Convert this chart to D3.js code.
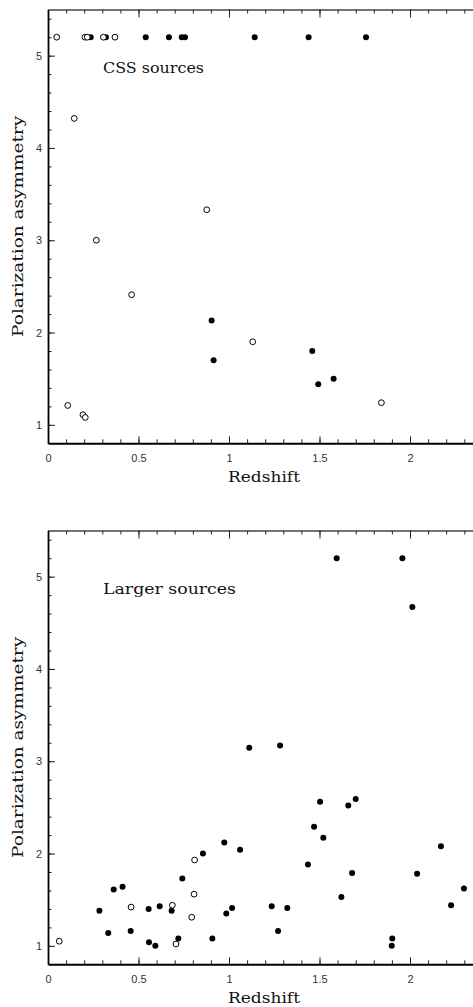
<!DOCTYPE html>
<html>
<head>
<meta charset="utf-8">
<script src="https://cdn.jsdelivr.net/npm/d3@7"></script>
<style>
  body { margin: 0; background: #fff; }
</style>
</head>
<body>
<svg id="vis" width="473" height="1007"></svg>
<script>
// redshift vs polarization asymmetry, [z, asym]
var cssFilled = [[0.236,5.2],[0.32,5.2],[0.54,5.2],[0.668,5.2],[0.739,5.2],[0.757,5.2],
    [1.142,5.2],[1.44,5.2],[1.757,5.2],[0.904,2.13],[0.915,1.70],[1.46,1.80],[1.493,1.44],[1.578,1.50]];
var cssOpen = [[0.048,5.2],[0.204,5.2],[0.217,5.2],[0.306,5.2],[0.37,5.2],[0.145,4.32],[0.877,3.33],
    [0.267,3.00],[0.462,2.41],[0.109,1.21],[0.193,1.11],[0.206,1.08],[1.131,1.90],[1.842,1.24]];
var largerFilled = [[1.595,5.2],[1.958,5.2],[2.013,4.67],[1.112,3.145],[1.282,3.17],[1.503,2.56],
    [1.659,2.52],[1.70,2.59],[1.47,2.29],[1.521,2.17],[1.061,2.04],[2.171,2.08],[1.436,1.88],
    [1.68,1.79],[2.039,1.78],[2.298,1.62],[1.621,1.53],[1.017,1.41],[1.236,1.43],[1.322,1.41],
    [2.227,1.44],[1.271,1.16],[1.902,1.08],[1.899,1.00],[0.974,2.12],[0.856,2.00],[0.742,1.73],
    [0.412,1.64],[0.363,1.61],[0.617,1.43],[0.556,1.40],[0.683,1.38],[0.284,1.38],[0.985,1.35],
    [0.333,1.14],[0.457,1.16],[0.72,1.08],[0.908,1.08],[0.558,1.04],[0.593,1.00]];
var largerOpen = [[0.81,1.93],[0.807,1.56],[0.687,1.44],[0.459,1.42],[0.794,1.31],[0.707,1.02],[0.062,1.05]];

var xMajor = [0, 0.5, 1, 1.5, 2];
var yMajor = [1, 2, 3, 4, 5];
var xMinor = d3.range(1, 25).map(function(i){ return i / 10; });
var yMinor = d3.range(5, 28).map(function(i){ return i / 5; });

var canvas = d3.select("#vis");

var left = 48, plotW = 452.5, plotH = 433.8;

function addSerifText(g, x, y, len, text, rotate){
    return g.append("text")
        .attr("x", x)
        .attr("y", y)
        .attr("text-anchor", "middle")
        .attr("transform", rotate ? "rotate(-90," + x + "," + y + ")" : null)
        .attr("textLength", len)
        .attr("lengthAdjust", "spacingAndGlyphs")
        .style("font-family", "'DejaVu Serif', serif")
        .style("font-size", "15px")
        .style("fill", "#111")
        .text(text);
}

function makePanel(top, filled, open, label, labelLen){
    var bottom = top + plotH;
    var x = d3.scaleLinear().domain([0, 2.5]).range([left, left + plotW]);
    var y = d3.scaleLinear().domain([0.8, 5.5]).range([bottom, top]);
    var g = canvas.append("g");

    // minor ticks
    g.append("g").attr("transform", "translate(0," + bottom + ")")
        .call(d3.axisBottom(x).tickValues(xMinor).tickSize(-4).tickSizeOuter(0).tickFormat(""))
        .call(function(a){ a.select(".domain").remove(); });
    g.append("g").attr("transform", "translate(0," + top + ")")
        .call(d3.axisTop(x).tickValues(xMinor).tickSize(-4).tickSizeOuter(0).tickFormat(""))
        .call(function(a){ a.select(".domain").remove(); });
    g.append("g").attr("transform", "translate(" + left + ",0)")
        .call(d3.axisLeft(y).tickValues(yMinor).tickSize(-3.5).tickSizeOuter(0).tickFormat(""))
        .call(function(a){ a.select(".domain").remove(); });

    // major ticks + labels
    var bx = g.append("g").attr("transform", "translate(0," + bottom + ")")
        .call(d3.axisBottom(x).tickValues(xMajor).tickSize(-7).tickSizeOuter(0).tickPadding(11)
              .tickFormat(d3.format("")));
    var tx = g.append("g").attr("transform", "translate(0," + top + ")")
        .call(d3.axisTop(x).tickValues(xMajor).tickSize(-8).tickSizeOuter(0).tickFormat(""));
    var ly = g.append("g").attr("transform", "translate(" + left + ",0)")
        .call(d3.axisLeft(y).tickValues(yMajor).tickSize(-7).tickSizeOuter(0).tickPadding(6)
              .tickFormat(d3.format("d")));

    g.selectAll(".tick line").attr("stroke", "#222").attr("stroke-width", 1);
    g.selectAll(".tick text")
        .style("font-family", "'Liberation Sans', Arial, sans-serif")
        .style("font-size", "11px")
        .style("fill", "#333");
    bx.select(".domain").attr("stroke", "#000").attr("stroke-width", 2);
    ly.select(".domain").attr("stroke", "#000").attr("stroke-width", 1.8);
    tx.select(".domain").attr("stroke", "#444").attr("stroke-width", 1.3);

    g.append("g").selectAll("circle.f")
        .data(filled).enter().append("circle")
        .attr("cx", function(d){ return x(d[0]); })
        .attr("cy", function(d){ return y(d[1]); })
        .attr("r", 3)
        .style("fill", "#000");
    g.append("g").selectAll("circle.o")
        .data(open).enter().append("circle")
        .attr("cx", function(d){ return x(d[0]); })
        .attr("cy", function(d){ return y(d[1]); })
        .attr("r", 2.9)
        .style("fill", "#fff")
        .style("stroke", "#000")
        .style("stroke-width", 1);

    addSerifText(g, 103 + labelLen / 2, y(5) + 17.5, labelLen, label, false);
    addSerifText(g, 264, bottom + 38.4, 72, "Redshift", false);
    addSerifText(g, 23, (top + bottom) / 2, 221, "Polarization asymmetry", true);
}

makePanel(9.5, cssFilled, cssOpen, "CSS sources", 101);
makePanel(530.5, largerFilled, largerOpen, "Larger sources", 133);
</script>
</body>
</html>
